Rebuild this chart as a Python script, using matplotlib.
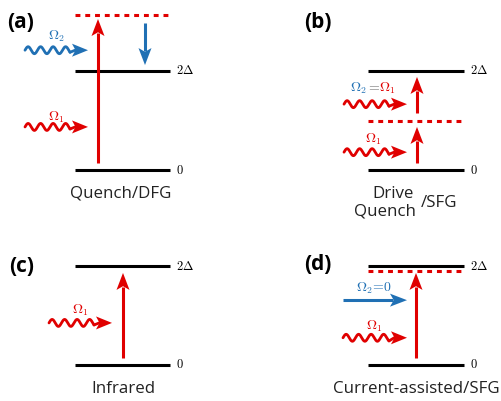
import numpy as np
import matplotlib
matplotlib.use("Agg")
import matplotlib.pyplot as plt
from matplotlib.patches import Polygon

plt.rcParams["mathtext.fontset"] = "cm"

RED = "#e00000"
BLUE = "#2070b4"

# energies in units of Delta
ground = 0.0
gap = 2.0
panel_tags = ["(a)", "(b)", "(c)", "(d)"]
captions = ["Quench/DFG", None, "Infrared", "Current-assisted/SFG"]
virtual_levels = [3.13, 1.0, None, 1.9]
# vertical transitions per panel: (from E, to E, colour)
transitions = [
    [(0.15, 3.05, RED), (2.97, 2.12, BLUE)],
    [(0.14, 0.87, RED), (1.15, 1.88, RED)],
    [(0.15, 1.86, RED)],
    [(0.15, 1.86, RED)],
]
# incoming fields per panel: (E height, kind, colour)
fields = [
    [(2.42, "wave", BLUE), (0.87, "wave", RED)],
    [(1.33, "wave", RED), (0.36, "wave", RED)],
    [(0.85, "wave", RED)],
    [(1.31, "straight", BLUE), (0.55, "wave", RED)],
]

# layout (pixels)
px_per_E = 49.5
base_y = [170, 170, 365, 365]
level_x = [(75, 170), (368, 464), (75, 170), (368, 464)]
arrow_x = [[98, 145], [417, 417], [123], [416]]
field_x = [(25, 88), (344, 407), (49, 112), (343, 407)]
tag_pos = [(21, 22), (318, 22), (22, 267), (318, 265)]
caption_pos = [(121, 193), None, (123, 389), (416, 389)]

fig = plt.figure(figsize=(5.02, 4.01), dpi=100)
ax = fig.add_axes([0, 0, 1, 1])
ax.set_xlim(0, 502)
ax.set_ylim(401, 0)
ax.axis("off")


def ypix(i, E):
    return base_y[i] - E * px_per_E


def head(tip, d, color, L=17, W=13):
    tip = np.array(tip, float)
    d = np.array(d, float) / np.hypot(*d)
    n = np.array([-d[1], d[0]])
    pts = [tip, tip - L * d + W / 2 * n, tip - 0.78 * L * d, tip - L * d - W / 2 * n]
    ax.add_patch(Polygon(pts, closed=True, color=color, lw=0, zorder=3))
    return tip - 0.8 * L * d


def arrow(x0, y0, x1, y1, color, lw=2.2):
    back = head((x1, y1), (x1 - x0, y1 - y0), color)
    ax.plot([x0, back[0]], [y0, back[1]], color=color, lw=lw, solid_capstyle="butt")


def wavy(x0, x1, y, color):
    L = 16
    back = head((x1, y), (1, 0), color, L=L, W=13)
    xw = x1 - L - 2
    xs = np.linspace(x0, xw, 200)
    ys = y - 3.5 * np.sin(2 * np.pi * (xs - x0) / 12.5)
    ax.plot(xs, ys, color=color, lw=2.0, solid_capstyle="round")
    ax.plot([xw, back[0]], [ys[-1], y], color=color, lw=2.0, solid_capstyle="round")


for i in range(4):
    x0, x1 = level_x[i]
    for E in (ground, gap):
        ax.plot([x0, x1], [ypix(i, E)] * 2, color="black", lw=2.2, solid_capstyle="butt")
    ax.text(x1 + 6, ypix(i, gap), r"$2\Delta$", fontsize=9, va="center", ha="left")
    ax.text(x1 + 6, ypix(i, ground), r"$0$", fontsize=9, va="center", ha="left")
    if virtual_levels[i] is not None:
        ax.plot([x0, x1], [ypix(i, virtual_levels[i])] * 2, color=RED, lw=2.2,
                linestyle=(0, (1.6, 1.6)))
    for (Ea, Eb, c), xa in zip(transitions[i], arrow_x[i]):
        arrow(xa, ypix(i, Ea), xa, ypix(i, Eb), c)
    fx0, fx1 = field_x[i]
    for E, kind, c in fields[i]:
        y = ypix(i, E)
        if kind == "wave":
            wavy(fx0, fx1, y, c)
        else:
            arrow(fx0, y, fx1, y, c, lw=2.2)
    ax.text(*tag_pos[i], panel_tags[i], fontsize=15, fontweight="bold",
            family="Open Sans", ha="center", va="center")
    if captions[i]:
        ax.text(*caption_pos[i], captions[i], fontsize=12.2, family="Open Sans",
                ha="center", va="center", color="#222222")

# field labels
ax.text(56, 36, r"$\Omega_2$", color=BLUE, fontsize=10, ha="center", va="center")
ax.text(56, 117, r"$\Omega_1$", color=RED, fontsize=10, ha="center", va="center")
ax.text(367, 88, r"$\Omega_2$", color=BLUE, fontsize=10, ha="right", va="center")
ax.text(373, 86, r"$=$", color="#666666", fontsize=10, ha="center", va="center")
ax.text(379, 88, r"$\Omega_1$", color=RED, fontsize=10, ha="left", va="center")
ax.text(373, 139, r"$\Omega_1$", color=RED, fontsize=10, ha="center", va="center")
ax.text(80, 310, r"$\Omega_1$", color=RED, fontsize=10, ha="center", va="center")
ax.text(374, 288, r"$\Omega_2\!=\!0$", color=BLUE, fontsize=10, ha="center", va="center")
ax.text(374, 326, r"$\Omega_1$", color=RED, fontsize=10, ha="center", va="center")

# stacked caption of panel (b)
ax.text(393, 194, "Drive", fontsize=12.2, family="Open Sans", ha="center", va="center",
        color="#222222")
ax.text(385, 212, "Quench", fontsize=12.2, family="Open Sans", ha="center", va="center",
        color="#222222")
ax.text(439, 203, "/SFG", fontsize=12.2, family="Open Sans", ha="center", va="center",
        color="#222222")

fig.savefig("out.png", dpi=100)
